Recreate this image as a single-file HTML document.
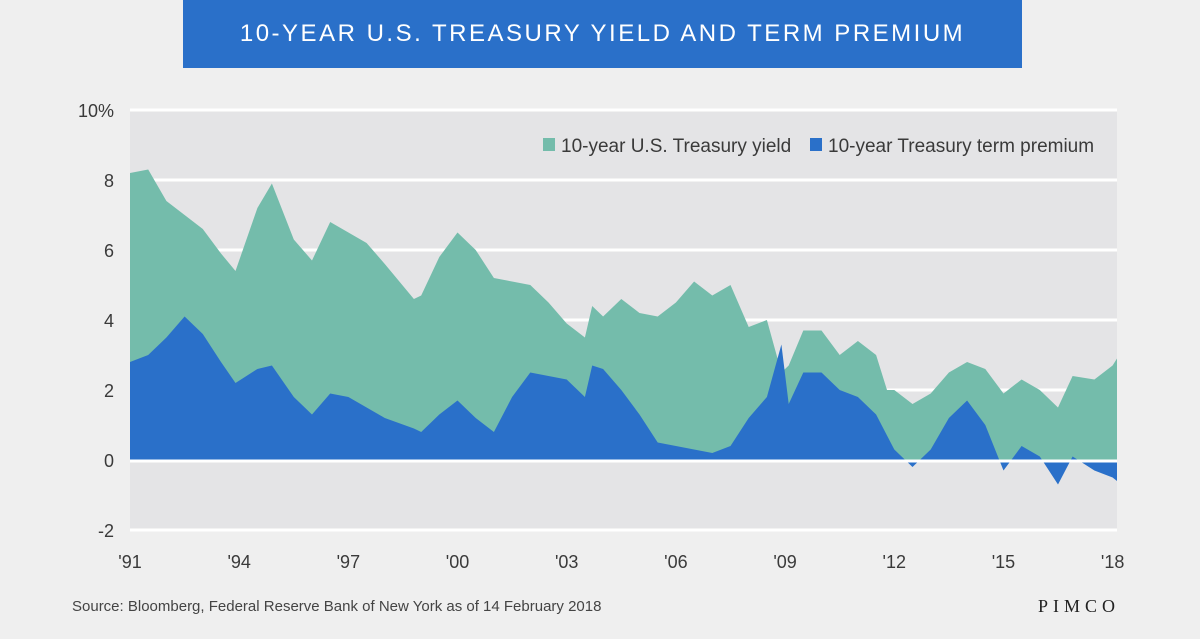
<!DOCTYPE html>
<html><head><meta charset="utf-8"><style>
body{margin:0;width:1200px;height:639px;background:#efefef;font-family:"Liberation Sans",sans-serif;overflow:hidden;position:relative}
#title{position:absolute;left:183px;top:0;width:839px;height:68px;background:#2a70c9;color:#fff;font-size:24px;letter-spacing:2.5px;text-align:center;line-height:68px}
#src{position:absolute;left:72px;top:598px;font-size:15px;color:#444}
#logo{position:absolute;left:1038px;top:596px;font-family:"Liberation Serif",serif;font-size:18px;letter-spacing:5px;color:#222}
</style></head><body>
<div id="title">10-YEAR U.S. TREASURY YIELD AND TERM PREMIUM</div>
<svg id="chart" width="1200" height="639" style="position:absolute;left:0;top:0"></svg>
<div id="src">Source: Bloomberg, Federal Reserve Bank of New York as of 14 February 2018</div>
<div id="logo">PIMCO</div>
<script>
const years=[1991,1991.5,1992,1992.5,1993,1993.5,1993.9,1994.5,1994.9,1995.5,1996,1996.5,1997,1997.5,1998,1998.8,1999,1999.5,2000,2000.5,2001,2001.5,2002,2002.5,2003,2003.5,2003.7,2004,2004.5,2005,2005.5,2006,2006.5,2007,2007.5,2008,2008.5,2008.9,2009.1,2009.5,2010,2010.5,2011,2011.5,2011.8,2012,2012.5,2013,2013.5,2014,2014.5,2015,2015.5,2016,2016.5,2016.9,2017.5,2018,2018.12];
const yieldVals=[8.2,8.3,7.4,7.0,6.6,5.9,5.4,7.2,7.9,6.3,5.7,6.8,6.5,6.2,5.6,4.6,4.7,5.8,6.5,6.0,5.2,5.1,5.0,4.5,3.9,3.5,4.4,4.1,4.6,4.2,4.1,4.5,5.1,4.7,5.0,3.8,4.0,2.5,2.7,3.7,3.7,3.0,3.4,3.0,2.0,2.0,1.6,1.9,2.5,2.8,2.6,1.9,2.3,2.0,1.5,2.4,2.3,2.7,2.9];
const premiumVals=[2.8,3.0,3.5,4.1,3.6,2.8,2.2,2.6,2.7,1.8,1.3,1.9,1.8,1.5,1.2,0.9,0.8,1.3,1.7,1.2,0.8,1.8,2.5,2.4,2.3,1.8,2.7,2.6,2.0,1.3,0.5,0.4,0.3,0.2,0.4,1.2,1.8,3.3,1.6,2.5,2.5,2.0,1.8,1.3,0.7,0.3,-0.2,0.3,1.2,1.7,1.0,-0.3,0.4,0.1,-0.7,0.1,-0.3,-0.5,-0.6];
const yTicks=[10,8,6,4,2,0,-2];
const yTickLabels=["10%","8","6","4","2","0","-2"];
const xTicks=[1991,1994,1997,2000,2003,2006,2009,2012,2015,2018];
const xTickLabels=["'91","'94","'97","'00","'03","'06","'09","'12","'15","'18"];
const X0=130,X1=1117;
const x=v=>X0+(v-1991)/(2018.12-1991)*(X1-X0);
const y=v=>460-v*35;
const svg=document.getElementById('chart');
const NS='http://www.w3.org/2000/svg';
function mk(t,a){const e=document.createElementNS(NS,t);for(const k in a)e.setAttribute(k,a[k]);svg.appendChild(e);return e;}
let r=mk('rect',{x:X0,y:y(10),width:X1-X0,height:y(-2)-y(10),fill:'#e4e4e6'});


yTicks.forEach((v,i)=>{
 let l=mk('line',{x1:X0,x2:X1,y1:y(v),y2:y(v),stroke:'#fff','stroke-width':3});
 
 
 let t=mk('text',{x:114,y:y(v)+7,'text-anchor':'end','font-size':18,fill:'#3a3a3a'});t.textContent=yTickLabels[i];
 
 
});
function area(vals){let d='M'+x(years[0])+','+y(0);years.forEach((t,i)=>{d+='L'+x(t).toFixed(1)+','+y(vals[i]).toFixed(1);});d+='L'+x(years[years.length-1])+','+y(0)+'Z';return d;}
let a1=mk('path',{d:area(yieldVals),fill:'#74bcab'});


let a2=mk('path',{d:area(premiumVals),fill:'#2a70c9'});


let z=mk('line',{x1:X0,x2:X1,y1:y(0)+1,y2:y(0)+1,stroke:'#fff','stroke-width':3});


xTicks.forEach((v,i)=>{
 let t=mk('text',{x:x(v),y:568,'text-anchor':'middle','font-size':18,fill:'#3a3a3a'});t.textContent=xTickLabels[i];
 
 
});
let s1=mk('rect',{x:543,y:138,width:12,height:13,fill:'#74bcab'});


let t1=mk('text',{x:561,y:152,'font-size':19,fill:'#3a3a3a'});t1.textContent='10-year U.S. Treasury yield';


let s2=mk('rect',{x:810,y:138,width:12,height:13,fill:'#2a70c9'});


let t2=mk('text',{x:828,y:152,'font-size':19,fill:'#3a3a3a'});t2.textContent='10-year Treasury term premium';


</script>
</body></html>
